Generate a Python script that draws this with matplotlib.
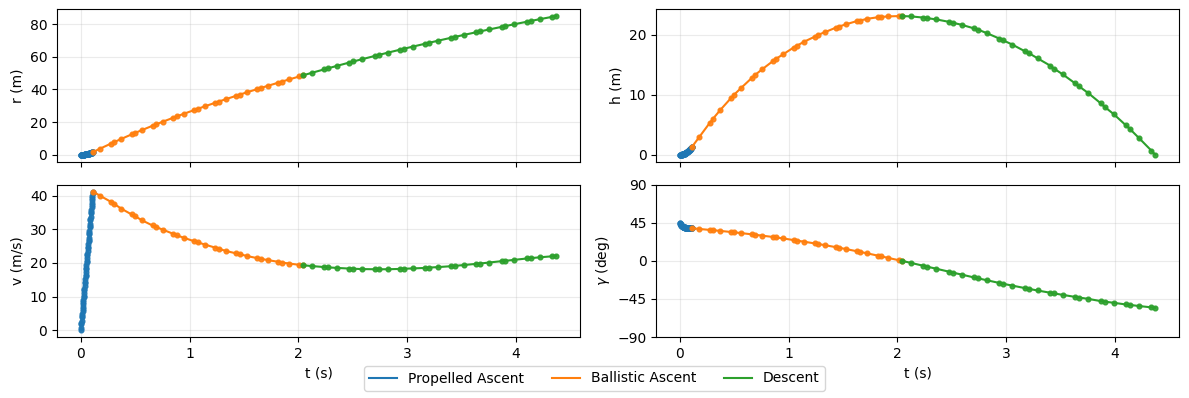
"""Water-rocket trajectory: r, h, v, gamma vs time for the three phases."""
import matplotlib
matplotlib.use("Agg")
import matplotlib.pyplot as plt

# ---------- data (collocation nodes) ----------
t_prop = [0.0000, 0.0020, 0.0046, 0.0055, 0.0075, 0.0101, 0.0110, 0.0130, 0.0156, 0.0165,
          0.0185, 0.0211, 0.0220, 0.0240, 0.0266, 0.0275, 0.0295, 0.0321, 0.0330, 0.0350,
          0.0376, 0.0385, 0.0405, 0.0431, 0.0440, 0.0460, 0.0486, 0.0495, 0.0515, 0.0541,
          0.0550, 0.0570, 0.0596, 0.0605, 0.0625, 0.0651, 0.0660, 0.0680, 0.0706, 0.0715,
          0.0735, 0.0761, 0.0770, 0.0790, 0.0816, 0.0825, 0.0845, 0.0871, 0.0880, 0.0900,
          0.0926, 0.0935, 0.0955, 0.0981, 0.0990, 0.1010, 0.1036, 0.1045, 0.1065, 0.1091,
          0.1100]
r_prop = [0.0, 0.0005, 0.0028, 0.004, 0.0074, 0.0135, 0.016, 0.0223, 0.0322, 0.036,
          0.0452, 0.0589, 0.064, 0.0761, 0.0935, 0.100, 0.115, 0.136, 0.144, 0.162,
          0.187, 0.196, 0.217, 0.246, 0.256, 0.280, 0.312, 0.324, 0.351, 0.387,
          0.400, 0.430, 0.470, 0.484, 0.516, 0.560, 0.576, 0.611, 0.659, 0.676,
          0.714, 0.766, 0.784, 0.825, 0.880, 0.900, 0.944, 1.003, 1.024, 1.071,
          1.134, 1.156, 1.206, 1.272, 1.296, 1.349, 1.419, 1.444, 1.499, 1.574,
          1.600]
h_prop = [0.0, 0.0004, 0.0023, 0.0033, 0.006, 0.011, 0.013, 0.018, 0.026, 0.029,
          0.037, 0.048, 0.052, 0.062, 0.076, 0.081, 0.093, 0.111, 0.117, 0.132,
          0.152, 0.159, 0.176, 0.200, 0.208, 0.228, 0.254, 0.263, 0.285, 0.314,
          0.325, 0.349, 0.382, 0.393, 0.419, 0.455, 0.468, 0.496, 0.535, 0.549,
          0.580, 0.622, 0.637, 0.670, 0.715, 0.731, 0.767, 0.815, 0.832, 0.870,
          0.921, 0.939, 0.980, 1.034, 1.053, 1.096, 1.153, 1.173, 1.218, 1.279,
          1.300]
v_prop = [0.0, 0.75, 1.72, 2.06, 2.81, 3.78, 4.12, 4.87, 5.84, 6.18,
          6.93, 7.90, 8.24, 8.99, 9.96, 10.30, 11.05, 12.02, 12.36, 13.11,
          14.08, 14.42, 15.17, 16.14, 16.48, 17.23, 18.20, 18.54, 19.29, 20.26,
          20.60, 21.35, 22.32, 22.66, 23.41, 24.38, 24.72, 25.47, 26.44, 26.78,
          27.53, 28.50, 28.84, 29.59, 30.56, 30.90, 31.65, 32.62, 32.96, 33.71,
          34.68, 35.02, 35.77, 36.74, 37.08, 37.83, 38.80, 39.14, 39.89, 40.86,
          41.20]
g_prop = [45.0, 44.2, 43.3, 43.0, 42.5, 42.0, 41.9, 41.6, 41.3, 41.2,
          41.0, 40.8, 40.7, 40.5, 40.3, 40.2, 40.1, 39.9, 39.9, 39.8,
          39.7, 39.6, 39.5, 39.4, 39.4, 39.3, 39.2, 39.2, 39.1, 39.1,
          39.1, 39.0, 39.0, 38.9, 38.9, 38.9, 38.8, 38.8, 38.8, 38.7,
          38.7, 38.7, 38.7, 38.6, 38.6, 38.6, 38.6, 38.5, 38.5, 38.5,
          38.5, 38.5, 38.5, 38.4, 38.4, 38.4, 38.4, 38.4, 38.4, 38.4,
          38.4]

t_ball = [0.110, 0.179, 0.273, 0.303, 0.372, 0.466, 0.496, 0.565, 0.659, 0.689,
          0.758, 0.852, 0.882, 0.951, 1.045, 1.075, 1.144, 1.238, 1.268, 1.337,
          1.431, 1.461, 1.530, 1.624, 1.654, 1.723, 1.817, 1.847, 1.916, 2.010, 2.040]
r_ball = [1.6, 3.81, 6.72, 7.64, 9.71, 12.45, 13.3, 15.2, 17.77, 18.57,
          20.36, 22.74, 23.5, 25.2, 27.43, 28.15, 29.76, 31.9, 32.6, 34.14,
          36.18, 36.85, 38.32, 40.27, 40.9, 42.31, 44.19, 44.8, 46.17, 47.99, 48.6]
h_ball = [1.3, 3.0, 5.3, 6.0, 7.5, 9.4, 10.0, 11.2, 12.8, 13.3,
          14.3, 15.6, 16.0, 16.8, 17.9, 18.2, 18.9, 19.7, 20.0, 20.5,
          21.2, 21.4, 21.8, 22.3, 22.4, 22.7, 22.95, 23.0, 23.1, 23.15, 23.15]
v_ball = [41.2, 39.9, 38.2, 37.6, 36.1, 34.4, 33.9, 32.6, 31.1, 30.7,
          29.8, 28.6, 28.2, 27.4, 26.4, 26.1, 25.4, 24.5, 24.2, 23.5,
          22.8, 22.6, 22.0, 21.4, 21.2, 20.8, 20.3, 20.1, 19.8, 19.4, 19.3]
g_ball = [38.4, 37.6, 36.5, 36.2, 35.3, 34.1, 33.7, 32.7, 31.3, 30.8,
          29.7, 28.2, 27.6, 26.4, 24.5, 23.9, 22.5, 20.6, 19.9, 18.4,
          16.2, 15.5, 13.8, 11.4, 10.6, 8.8, 6.2, 5.4, 3.4, 0.8, 0.0]

t_desc = [2.040, 2.123, 2.237, 2.273, 2.356, 2.470, 2.506, 2.589, 2.703, 2.739,
          2.822, 2.936, 2.972, 3.055, 3.169, 3.205, 3.288, 3.402, 3.438, 3.521,
          3.635, 3.671, 3.754, 3.868, 3.904, 3.987, 4.101, 4.137, 4.220, 4.334, 4.370]
r_desc = [48.6, 50.19, 52.3, 52.97, 54.48, 56.52, 57.15, 58.6, 60.54, 61.15,
          62.54, 64.39, 64.97, 66.3, 68.08, 68.65, 69.93, 71.64, 72.18, 73.41,
          75.06, 75.58, 76.76, 78.34, 78.84, 79.98, 81.5, 81.98, 83.06, 84.5, 84.96]
h_desc = [23.15, 23.1, 22.9, 22.8, 22.6, 22.2, 22.05, 21.7, 21.1, 20.9,
          20.3, 19.4, 19.1, 18.4, 17.3, 17.0, 16.1, 14.9, 14.4, 13.4,
          11.9, 11.4, 10.3, 8.6, 8.0, 6.8, 4.9, 4.3, 2.8, 0.7, 0.0]
v_desc = [19.3, 19.05, 18.75, 18.65, 18.5, 18.3, 18.25, 18.15, 18.1, 18.1,
          18.1, 18.2, 18.25, 18.35, 18.5, 18.6, 18.75, 19.0, 19.1, 19.35,
          19.7, 19.8, 20.1, 20.5, 20.6, 20.9, 21.3, 21.4, 21.65, 21.95, 22.05]
g_desc = [0.0, -2.4, -5.8, -6.9, -9.3, -12.7, -13.8, -16.2, -19.6, -20.6,
          -22.9, -26.1, -27.1, -29.2, -32.1, -33.0, -35.0, -37.6, -38.4, -40.2,
          -42.6, -43.3, -44.9, -47.5, -48.1, -49.5, -51.5, -52.0, -53.3, -54.9, -55.4]

phases = [
    ("Propelled Ascent", "tab:blue", t_prop, r_prop, h_prop, v_prop, g_prop),
    ("Ballistic Ascent", "tab:orange", t_ball, r_ball, h_ball, v_ball, g_ball),
    ("Descent", "tab:green", t_desc, r_desc, h_desc, v_desc, g_desc),
]
ylabels = ["r (m)", "h (m)", "v (m/s)", r"$\gamma$ (deg)"]


def main():
    fig, axes = plt.subplots(2, 2, figsize=(11.89, 3.98), dpi=100, sharex=True)
    axs = axes.ravel()

    handles = []
    for name, color, t, r, h, v, g in phases:
        for ax, y in zip(axs, [r, h, v, g]):
            ax.plot(t, y, "-", color=color, lw=1.5)
            ax.plot(t, y, "o", color=color, ms=3.4, alpha=0.9)
        handles.append(plt.Line2D([], [], color=color, lw=1.5, label=name))

    for ax, lab in zip(axs, ylabels):
        ax.set_ylabel(lab)
        ax.grid(alpha=0.25)
    axs[3].set_ylim(-90, 90)
    axs[3].set_yticks([-90, -45, 0, 45, 90])
    axs[2].set_xlabel("t (s)")
    axs[3].set_xlabel("t (s)")

    fig.subplots_adjust(left=0.048, right=0.9916, top=0.977, bottom=0.153,
                        hspace=0.15, wspace=0.146)
    fig.legend(handles=handles, loc="lower center", ncol=3)
    fig.savefig("out.png", dpi=100)
    plt.close(fig)


if __name__ == "__main__":
    main()
